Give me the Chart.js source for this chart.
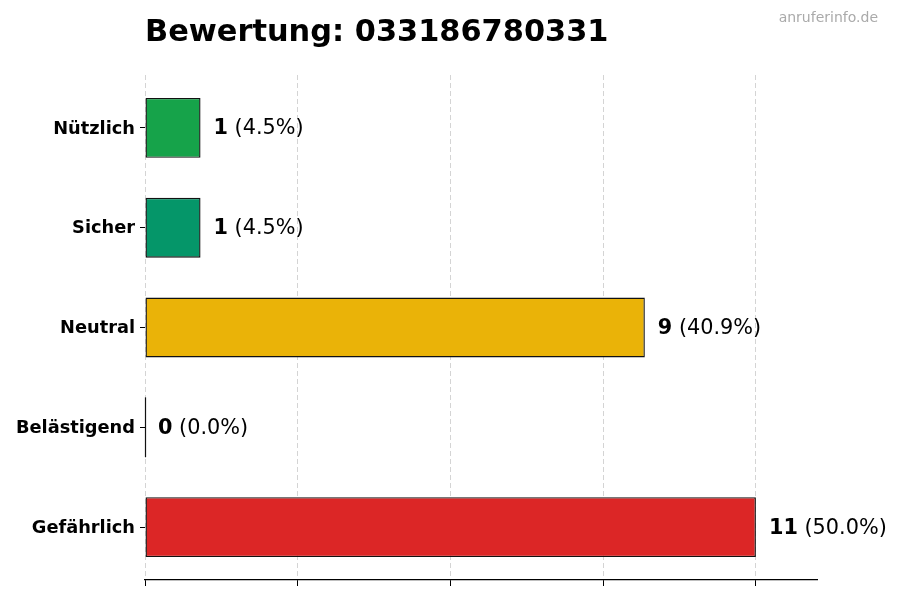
<!DOCTYPE html>
<html>
<head>
<meta charset="utf-8">
<script src="https://cdn.jsdelivr.net/npm/chart.js@4/dist/chart.umd.min.js"></script>
<style>
  html, body { margin: 0; padding: 0; background: #ffffff; }
  #wrap { width: 900px; height: 600px; }
</style>
</head>
<body>
<div id="wrap"><canvas id="c" width="900" height="600"></canvas></div>
<script>
const titleText = "Bewertung: 033186780331";
const watermarkText = "anruferinfo.de";
const categories = ["Nützlich", "Sicher", "Neutral", "Belästigend", "Gefährlich"];
const counts = [1, 1, 9, 0, 11];
const barColors = ["#16a34a", "#059669", "#eab308", "#dc2626", "#dc2626"];
const xTickValues = [0, 2.75, 5.5, 8.25, 11];
const xMax = 12.1;
const yPad = 0.53; // category-axis margin (in category units) on each side

const total = counts.reduce((a, b) => a + b, 0);
const FONT = "'DejaVu Sans', sans-serif";

const decorPlugin = {
  id: 'decor',
  afterDatasetsDraw(chart) {
    const ctx = chart.ctx;
    const meta = chart.getDatasetMeta(0);
    ctx.save();
    meta.data.forEach((bar, i) => {
      const v = counts[i];
      const props = bar.getProps(['x', 'y', 'base', 'height'], true);
      if (v === 0) {
        ctx.strokeStyle = '#111111';
        ctx.lineWidth = 1.2;
        ctx.beginPath();
        ctx.moveTo(props.base + 0.5, props.y - props.height / 2);
        ctx.lineTo(props.base + 0.5, props.y + props.height / 2);
        ctx.stroke();
      }
      const x0 = props.x + 13;
      const ty = props.y + 1;
      ctx.textBaseline = 'middle';
      ctx.textAlign = 'left';
      ctx.fillStyle = '#000000';
      ctx.font = "bold 20.8px " + FONT;
      const vs = String(v);
      ctx.fillText(vs, x0, ty);
      const w = ctx.measureText(vs).width;
      ctx.font = "20.8px " + FONT;
      const pct = total ? (v / total * 100).toFixed(1) : '0.0';
      ctx.fillText(" (" + pct + "%)", x0 + w, ty);
    });
    ctx.restore();
  },
  afterDraw(chart) {
    const ctx = chart.ctx;
    ctx.save();
    ctx.fillStyle = '#000000';
    ctx.font = "bold 30.4px " + FONT;
    ctx.textAlign = 'left';
    ctx.textBaseline = 'alphabetic';
    ctx.fillText(titleText, chart.chartArea.left, 41);
    ctx.fillStyle = '#aaaaaa';
    ctx.font = "14px " + FONT;
    ctx.textAlign = 'right';
    ctx.fillText(watermarkText, 878, 22);
    ctx.restore();
  }
};

new Chart(document.getElementById('c'), {
  type: 'bar',
  data: {
    labels: categories,
    datasets: [{
      data: counts,
      backgroundColor: barColors,
      borderColor: '#111111',
      borderWidth: 1.4,
      borderSkipped: false,
      barPercentage: 0.6,
      categoryPercentage: 1.0
    }]
  },
  options: {
    indexAxis: 'y',
    responsive: false,
    animation: false,
    devicePixelRatio: 1,
    layout: { padding: { top: 75, right: 83, bottom: 12, left: 0 } },
    plugins: {
      legend: { display: false },
      tooltip: { enabled: false },
      title: { display: false }
    },
    scales: {
      x: {
        type: 'linear',
        min: 0,
        max: xMax,
        afterBuildTicks(scale) {
          scale.ticks = xTickValues.map(v => ({ value: v }));
        },
        afterFit(scale) { scale.height = 8; },
        ticks: { display: false },
        grid: {
          display: true,
          color: '#d4d4d4',
          lineWidth: 1,
          drawTicks: true,
          tickLength: 6,
          tickColor: '#000000',
          tickWidth: 1
        },
        border: { display: true, color: '#000000', width: 1.2, dash: [5, 3] }
      },
      y: {
        type: 'category',
        offset: true,
        afterBuildTicks(scale) {
          scale._startValue = -yPad;
          scale._valueRange = categories.length - 1 + 2 * yPad;
        },
        afterFit(scale) { scale.width = 145; },
        ticks: {
          color: '#000000',
          font: { family: FONT, size: 17.8, weight: 'bold' },
          padding: 5,
          labelOffset: 1
        },
        grid: {
          display: true,
          offset: false,
          drawOnChartArea: false,
          drawTicks: true,
          tickLength: 5,
          color: '#000000',
          tickColor: '#000000'
        },
        border: { display: false }
      }
    }
  },
  plugins: [decorPlugin]
});
</script>
</body>
</html>
